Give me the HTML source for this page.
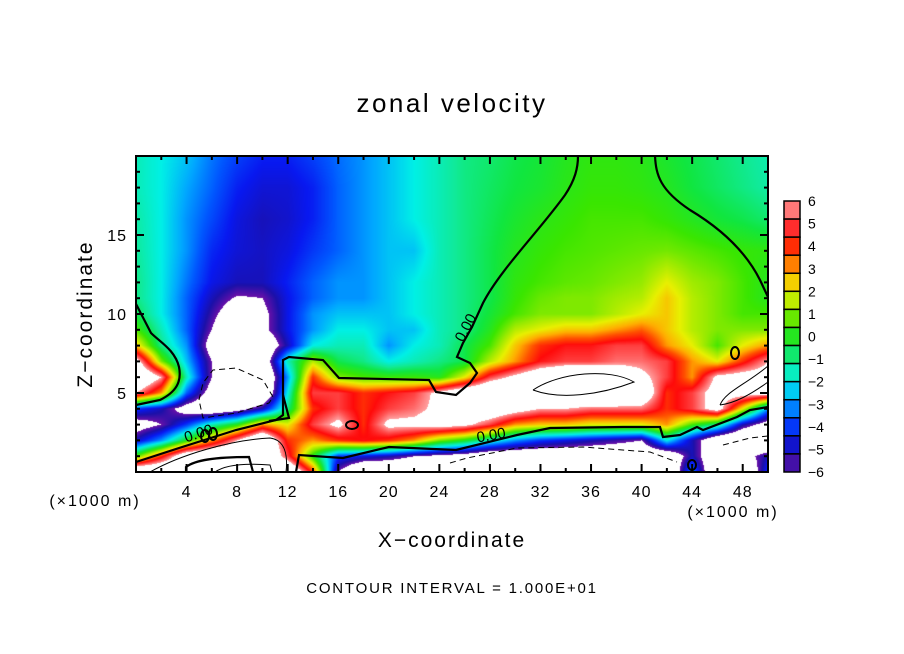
<!DOCTYPE html>
<html><head><meta charset="utf-8"><style>
html,body{margin:0;padding:0;background:#fff;}
#wrap{position:relative;width:904px;height:654px;overflow:hidden;font-family:"Liberation Sans",sans-serif;}
canvas{position:absolute;left:136px;top:156px;}
svg{position:absolute;left:0;top:0;}
</style></head><body>
<div id="wrap">
<canvas id="field" width="632" height="316"></canvas>
<svg id="svg" width="904" height="654"></svg>
</div>
<script>
// ---- data ----
const xCoords = [0,2,4,6,8,10,12,14,16,18,20,22,24,26,28,30,32,34,36,38,40,42,44,46,48,50];
const zLevels = [0,1,2,3,4,5,6,7,8,9,10,11,12,14,16,18,20];
const rowZ0  = [9,9,9,9,9,9,9,4,-6,-9,-9,-9,-9,-9,-9,-9,-9,-9,-9,-9,-9,-9,-3,-9,-9,-4];
const rowZ1  = [0.5,4,8,9,9,9,5,0,-4,-4.5,-5,-6,-6.5,-7,-8,-8,-8,-8,-8,-8,-8,-8,-5,-8,-7,-5];
const rowZ2  = [-5,-3,0,3,6,9,4,3,4,4.5,4,3,1,0,-1.5,-3,-4,-4.5,-5,-5.5,-6,-2,-5,-8,-9,-9];
const rowZ3  = [-7,-6,-4,-1.5,0,3,2,5,6.5,4,6.5,6.5,7,6.5,5,3,2.5,2.5,2,2,2,3,0.5,-1,-5,-7];
const rowZ4  = [-4,-5,-7,-8,-7,-5,-1,4,5,4,5,5.5,6.5,8,8,7,6,6,5.5,5.5,5.5,4,5,7,2,-3];
const rowZ5  = [6,3,-3.5,-7,-9,-9,-2,5,5,4,4.5,5,6.5,8,9,9,9,9,9,9,8,4,5,7,7,7];
const rowZ6  = [9,6,-1.5,-6,-9,-9,-3,4,1,0.5,0.3,0.3,0,2,5,6.5,8,9,9,8,6.5,5,3,6.5,7,7];
const rowZ7  = [7,1,-2.5,-6,-9,-8,-1.5,1.5,-0.5,-1,-2,-1.5,-1,-0.5,1.5,3,4.5,5,5,5.5,5.5,5,3,2,4,6];
const rowZ8  = [2.5,-1,-3,-7,-9,-8,-5,-2,-1.5,-1.5,-3,-2,-1.5,-0.5,0.5,2.5,4,4.5,4.5,5,5,3,2,0.5,2,3];
const rowZ9  = [0.5,-1.5,-3.5,-6,-9,-6.5,-4.5,-3,-2,-2,-2.5,-2.5,-1.5,-1,0,1.5,2,2.5,2.5,3,3.5,2.5,1.5,1,1,1];
const rowZ10 = [-0.5,-2,-3.5,-5.5,-7.5,-6.5,-4.5,-3,-2.5,-2.5,-2.5,-2,-1.5,-1,-0.3,0.5,1,1,1,1.5,2,2.5,1.5,1,0.5,0.5];
const rowZ11 = [-1,-2,-3.5,-5,-6.2,-6,-4.5,-3.5,-3,-3,-2.5,-2,-1.5,-1,-0.5,0.3,0.8,1,1,1.3,1.5,2.5,1.5,1,0.5,0];
const rowZ12 = [-1,-2,-3.3,-4.5,-5,-5,-4.3,-3.5,-3,-3,-2.5,-2,-1.5,-1,-0.5,0.2,0.5,0.7,0.8,1,1.2,2,1.3,1,0.5,0];
const rowZ14 = [-1.2,-2,-3,-4.2,-4.7,-4.9,-4.6,-4,-3.5,-3,-2.5,-2.5,-1.5,-1,-0.5,0,0.3,0.5,0.6,0.7,0.8,0.9,0.7,0.5,0.3,0.2];
const rowZ16 = [-1.3,-2,-3,-3.8,-4.6,-5,-4.8,-4.3,-3.5,-3,-2.5,-2,-1.5,-1,-0.6,-0.2,0.1,0.3,0.5,0.5,0.5,0.3,0,-0.3,-0.5,-0.8];
const rowZ18 = [-1.5,-2,-2.8,-3.5,-4.3,-4.7,-4.7,-4.3,-3.5,-3,-2.5,-2,-1.5,-1,-0.7,-0.4,-0.2,0.1,0.3,0.3,0.2,0,-0.4,-0.7,-1,-1.3];
const rowZ20 = [-1.5,-2,-2.5,-3.3,-3.9,-4.3,-4.3,-3.9,-3.4,-3,-2.5,-2,-1.5,-1,-0.8,-0.5,-0.3,0,0.2,0.2,0.1,-0.2,-0.5,-0.8,-1.1,-1.4];
const rows = [rowZ0,rowZ1,rowZ2,rowZ3,rowZ4,rowZ5,rowZ6,rowZ7,rowZ8,rowZ9,rowZ10,rowZ11,rowZ12,rowZ14,rowZ16,rowZ18,rowZ20];
const xTickLabels = ["4","8","12","16","20","24","28","32","36","40","44","48"];
const zTickLabels = ["5","10","15"];
const cbarLabels = ["6","5","4","3","2","1","0","\u22121","\u22122","\u22123","\u22124","\u22125","\u22126"];

// ---- scales ----
const PX0=136, PX1=768, PY0=472, PY1=156;
const X=v=>PX0+(v-0)/50*(PX1-PX0);
const Z=v=>PY0-(v-0)/20*(PY0-PY1);

const cStops=[[6,[255,160,160]],[5.2,[255,80,80]],[4.4,[255,10,10]],[3.6,[255,80,0]],[2.8,[255,174,0]],[2.0,[232,240,0]],[1.2,[150,234,0]],[0.4,[58,230,0]],[-0.4,[16,230,64]],[-1.2,[16,234,154]],[-2.0,[0,240,230]],[-2.8,[0,168,255]],[-3.6,[0,88,255]],[-4.4,[8,24,240]],[-5.2,[28,16,168]],[-6,[106,16,168]]];
function colorOf(v){
  if(v>6||v<-6) return [255,255,255];
  for(let i=0;i<cStops.length-1;i++){
    const a=cStops[i],b=cStops[i+1];
    if(v<=a[0]&&v>=b[0]){const t=(a[0]-v)/(a[0]-b[0]);return a[1].map((c,k)=>Math.round(c+(b[1][k]-c)*t));}
  }
  return v>0?cStops[0][1]:cStops[cStops.length-1][1];
}
function sample(x,z){
  let i=Math.min(xCoords.length-2,Math.max(0,Math.floor(x/2)));
  let tx=(x-xCoords[i])/(xCoords[i+1]-xCoords[i]);
  let j=0; while(j<zLevels.length-2&&z>zLevels[j+1]) j++;
  let tz=(z-zLevels[j])/(zLevels[j+1]-zLevels[j]);
  tx=Math.max(0,Math.min(1,tx)); tz=Math.max(0,Math.min(1,tz));
  const a=rows[j][i],b=rows[j][i+1],c=rows[j+1][i],d=rows[j+1][i+1];
  return (a*(1-tx)+b*tx)*(1-tz)+(c*(1-tx)+d*tx)*tz;
}
const cv=document.getElementById('field'),ctx=cv.getContext('2d');
const img=ctx.createImageData(632,316);
for(let py=0;py<316;py++){for(let px=0;px<632;px++){
  const x=(px+0.5)/632*50, z=(316-py-0.5)/316*20;
  const c=colorOf(sample(x,z)); const k=(py*632+px)*4;
  img.data[k]=c[0];img.data[k+1]=c[1];img.data[k+2]=c[2];img.data[k+3]=255;}}
ctx.putImageData(img,0,0);

// ---- svg overlay ----
const NS="http://www.w3.org/2000/svg", svg=document.getElementById('svg');
function mk(tag,attrs,txt){const e=document.createElementNS(NS,tag);for(const k in attrs)e.setAttribute(k,attrs[k]);if(txt!==undefined)e.textContent=txt;svg.appendChild(e);return e;}
const contours=[
 ["contour-left-zero","M136,304 L151,333 C160,342 175,350 179,367 C182,382 176,392 160,400 L136,405",2.2,""],
 ["contour-main-zero","M136,462 L179,448 L236,430 L276,420 L283,415 L283,360 L289,357 L323,360 L339,378 L429,380 L436,392 L456,395 L470,383 L477,373 L470,363 L457,357 L463,343 L472,327 L483,303 C500,270 540,230 565,195 C575,180 578,168 578,156",2.2,""],
 ["contour-lower-zero","M296,472 L299,455 L343,458 L389,447 L456,450 L517,435 L550,428 L623,427 L660,427 L663,437 L680,435 L697,427 L703,430 L737,417 L750,410 L768,407",2.2,""],
 ["contour-inner-zero","M283,395 L289,418 L269,421",2.2,""],
 ["contour-top-right","M655,156 C656,175 660,190 690,210 C720,228 745,250 760,280 L768,297",2.2,""],
 ["contour-bottom-left-bold","M186,472 L186,467 C195,460 215,457 249,457 L253,472",2.2,""],
 ["contour-bottom-left-thin1","M150,472 C180,455 230,440 270,438 C285,440 288,455 286,472",1,""],
 ["contour-bottom-left-thin2","M215,472 C225,465 245,463 270,465 L272,472",1,""],
 ["contour-white-blob","M533,390 C560,372 610,368 634,382 C600,395 560,400 533,390",1,""],
 ["contour-right-thin","M720,405 C725,392 745,385 768,366 M720,405 C735,403 750,395 768,382",1,""],
 ["contour-spike-dashed","M199,400 L203,383 L213,370 L236,368 L263,380 L273,397 L269,403 L236,413 L203,418 Z",1,"6,4"],
 ["contour-bottom-dashed","M450,463 L467,458 L517,448 L583,447 L650,452 L677,462 M723,445 L750,438 L768,436",1,"6,4"],
];
contours.forEach(c=>{const p=mk('path',{d:c[1],fill:'none',stroke:'#000','stroke-width':c[2]});if(c[3])p.setAttribute('stroke-dasharray',c[3]);

});
[["loop-a",352,425,6,4],["loop-b",735,353,4,6],["loop-c",692,465,4,5],["loop-d",205,436,4,6],["loop-e",213,434,4,6]].forEach(l=>{const e=mk('ellipse',{cx:l[1],cy:l[2],rx:l[3],ry:l[4],fill:'none',stroke:'#000','stroke-width':2});

});
[["contour-label-1",470,330,-62],["contour-label-2",200,438,-18],["contour-label-3",492,440,-10]].forEach(t=>{const e=mk('text',{x:t[1],y:t[2],'font-size':15,'text-anchor':'middle',transform:`rotate(${t[3]} ${t[1]} ${t[2]})`,'font-family':'Liberation Sans'},'0.00');

});
const fr=mk('rect',{x:136,y:156,width:632,height:316,fill:'none',stroke:'#000','stroke-width':2});


for(let v=2;v<50;v+=2){const major=v%4===0,L=major?8:4;
 const t1=mk('line',{x1:X(v),x2:X(v),y1:PY0,y2:PY0-L,stroke:'#000','stroke-width':2});
 
 
 const t2=mk('line',{x1:X(v),x2:X(v),y1:PY1,y2:PY1+L,stroke:'#000','stroke-width':2});
 
 }
xTickLabels.forEach(s=>{const e=mk('text',{x:X(+s),y:497,'font-size':16,'text-anchor':'middle','font-family':'Liberation Sans','letter-spacing':1},s);
 
 });
for(let v=1;v<20;v++){const major=v%5===0,L=major?8:4;
 const t1=mk('line',{x1:PX0,x2:PX0+L,y1:Z(v),y2:Z(v),stroke:'#000','stroke-width':2});
 
 
 const t2=mk('line',{x1:PX1,x2:PX1-L,y1:Z(v),y2:Z(v),stroke:'#000','stroke-width':2});
 
 }
zTickLabels.forEach(s=>{const e=mk('text',{x:127,y:Z(+s)+6,'font-size':16,'text-anchor':'end','font-family':'Liberation Sans','letter-spacing':1},s);
 
 });
const CB0=201,CB1=472,cbN=15,cbH=(CB1-CB0)/cbN;
for(let i=0;i<cbN;i++){
 const vTop=6-i*0.8, vBot=vTop-0.8;
 const g=mk('rect',{x:784,y:CB0+i*cbH,width:16,height:cbH,fill:`rgb(${colorOf((vTop+vBot)/2).join(',')})`,stroke:'#000','stroke-width':1.5});
 
 }
cbarLabels.forEach((s,i)=>{const e=mk('text',{x:808,y:CB0+i*(CB1-CB0)/12+5,'font-size':14,'font-family':'Liberation Sans'},s);
 
 });
const texts=[["chart-title",452,112,26,'middle','zonal velocity',0,2.5],["x-axis-title",452,547,21,'middle','X\u2212coordinate',0,2],
 ["x-unit-left",95,506,16,'middle','(\u00d71000 m)',0,2],["x-unit-right",733,517,16,'middle','(\u00d71000 m)',0,2],
 ["contour-interval-note",452,593,15,'middle','CONTOUR INTERVAL = 1.000E+01',0,1.8],["z-axis-title",92,314,21,'middle','Z\u2212coordinate',-90,2]];
texts.forEach(t=>{const e=mk('text',{x:t[1],y:t[2],'font-size':t[3],'text-anchor':t[4],'font-family':'Liberation Sans','letter-spacing':t[7]},t[5]);
 if(t[6])e.setAttribute('transform',`rotate(${t[6]} ${t[1]} ${t[2]})`);
 
 });
</script>
</body></html>
